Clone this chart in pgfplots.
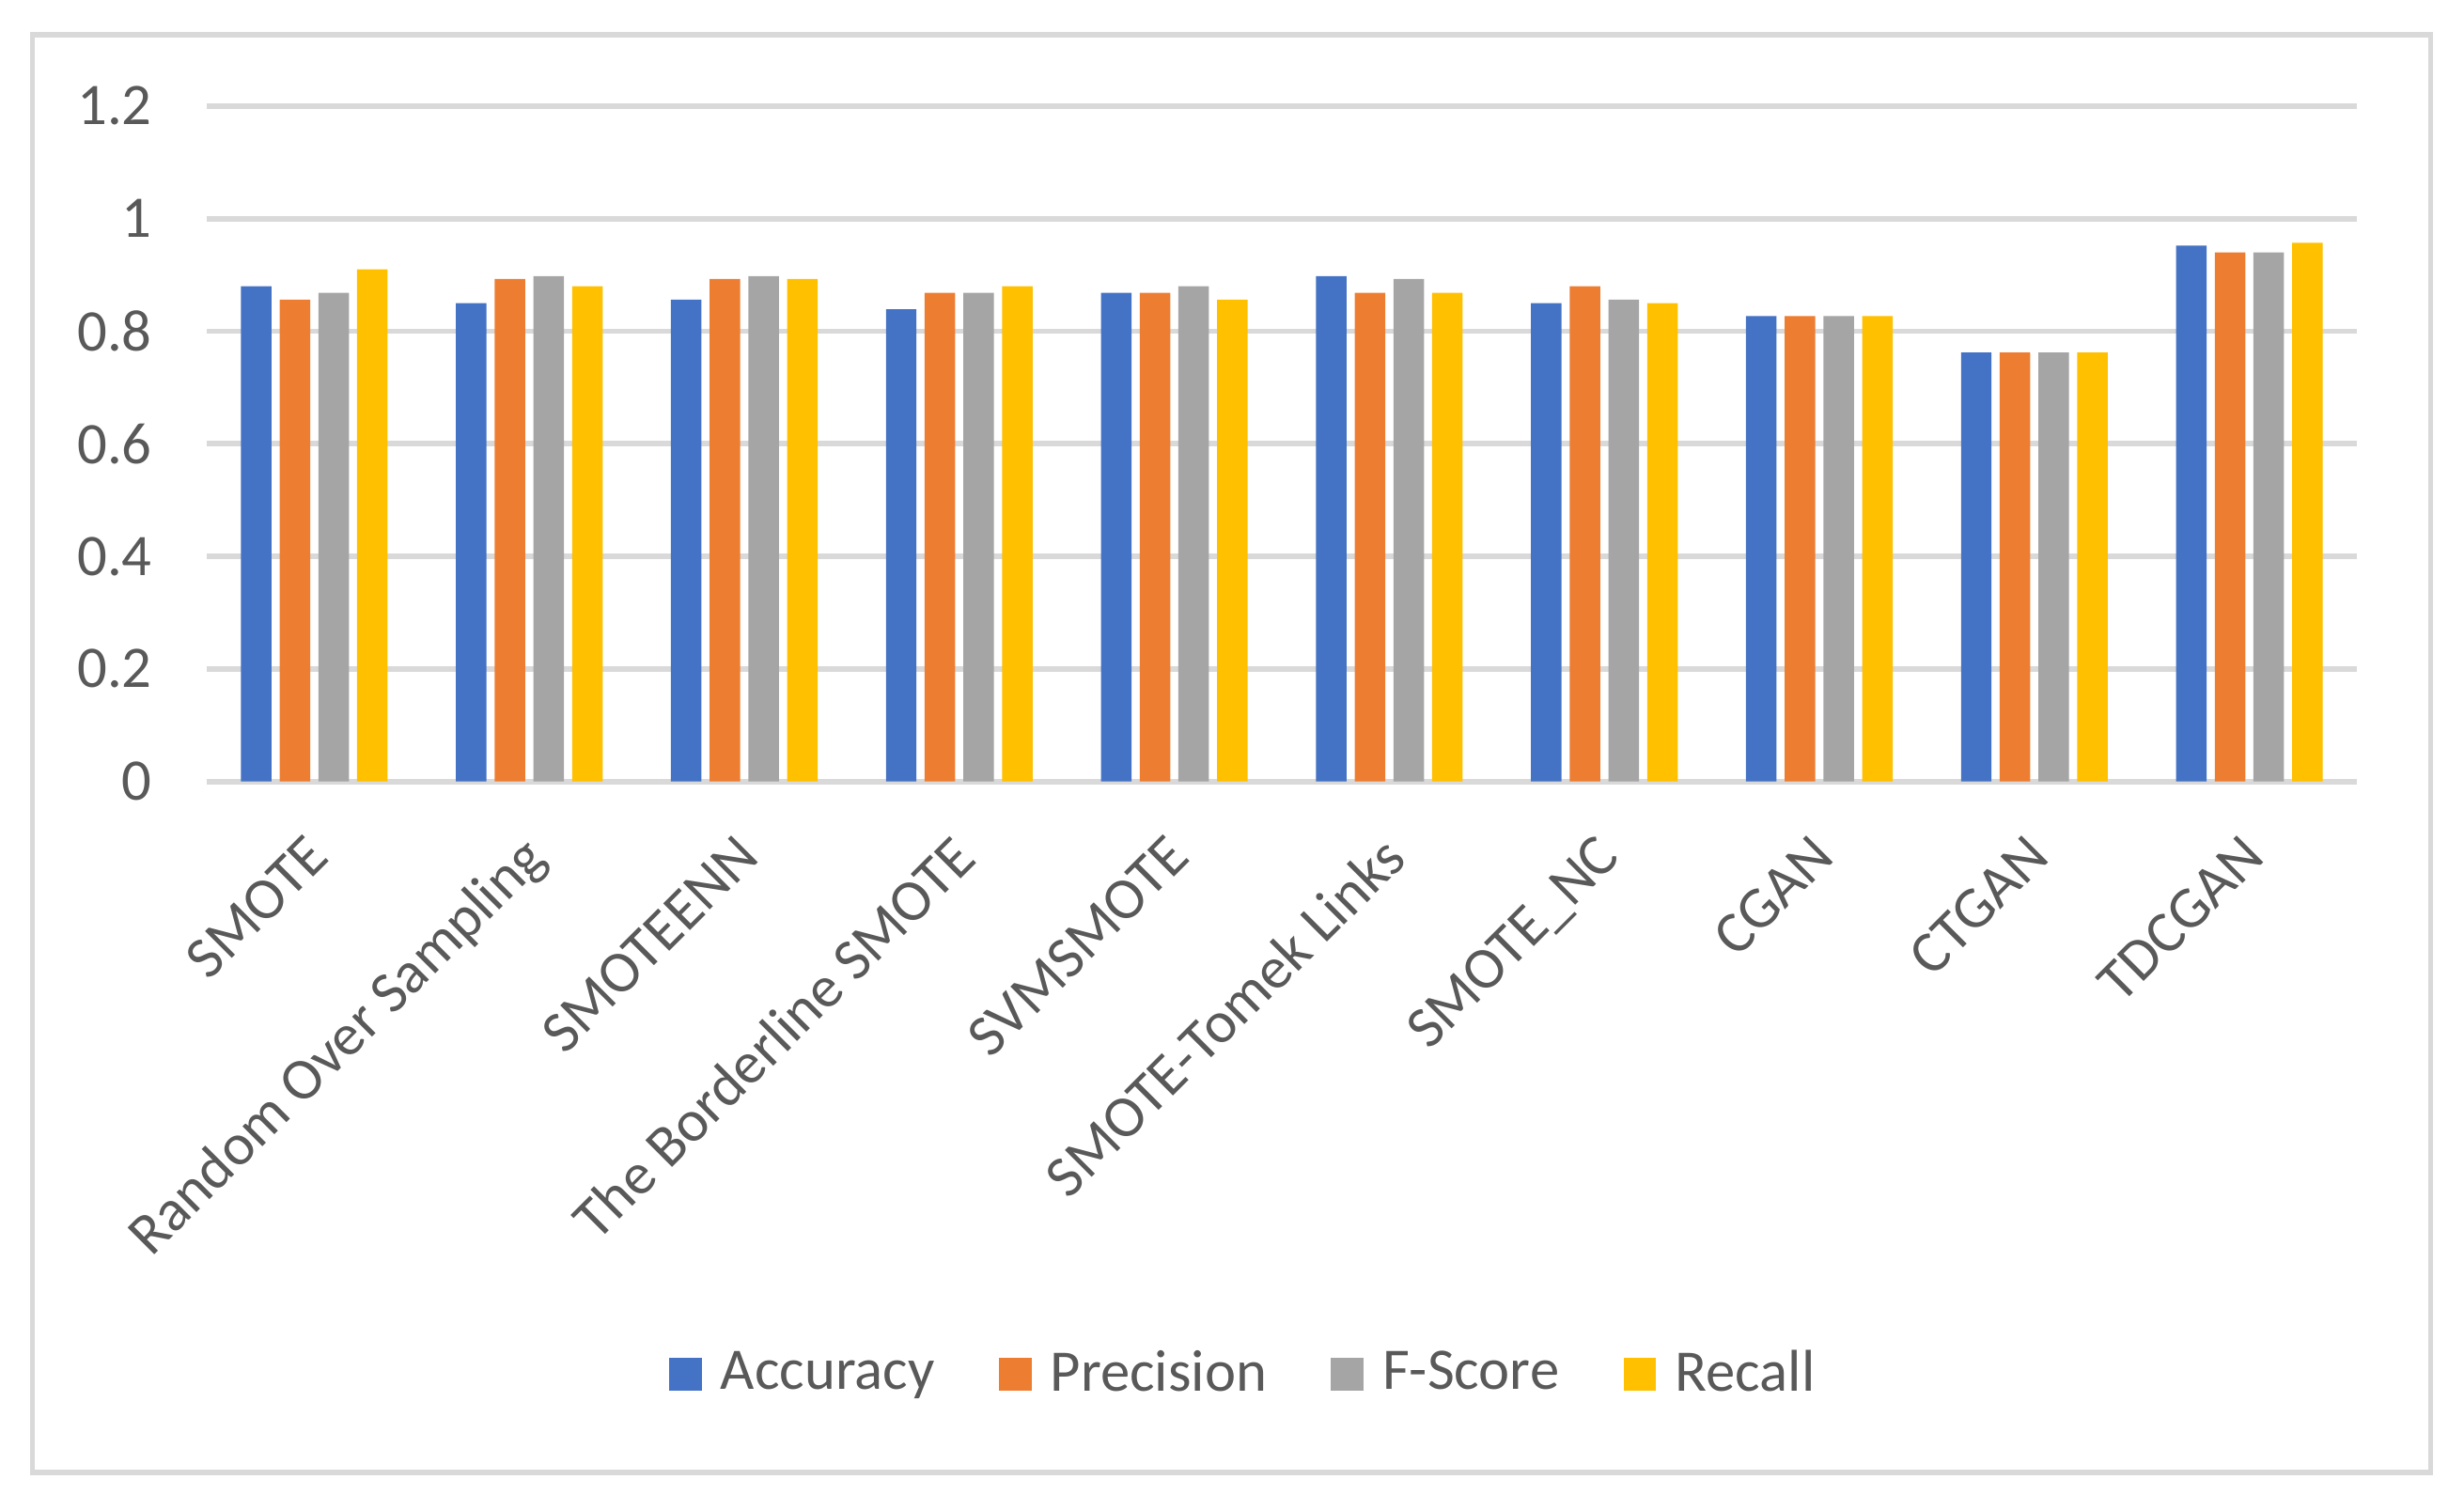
\documentclass[border=0pt]{standalone}
\usepackage{fontspec}
\setmainfont{Carlito}
\usepackage{pgfplots}
\pgfplotsset{compat=1.18}
\definecolor{cAcc}{HTML}{4472C4}
\definecolor{cPre}{HTML}{ED7D31}
\definecolor{cFsc}{HTML}{A5A5A5}
\definecolor{cRec}{HTML}{FFC000}
\definecolor{gridgray}{HTML}{D9D9D9}
\definecolor{labelgray}{HTML}{595959}
\pgfplotsset{sqlegend/.style={legend image code/.code={\fill[##1] (0pt,-3.05pt) rectangle (6.1pt,3.05pt);}}}
\begin{document}
\begin{tikzpicture}
\path[use as bounding box] (-38.6pt,-133.2pt) rectangle (421.4pt,145.9pt);
\draw[gridgray, line width=0.9pt] (-32.5pt,-129pt) rectangle (415.1pt,139.4pt);
\begin{axis}[
    scale only axis,
    width=401.4pt, height=126.1pt,
    xmin=-0.5, xmax=9.5, ymin=0, ymax=1.2,
    ybar=1.53pt, bar width=5.7pt,
    axis line style={draw=none},
    major tick length=0pt,
    ymajorgrids,
    grid style={line width=1pt, gridgray},
    xtick={0,...,9},
    xticklabels={SMOTE,Random Over Sampling,SMOTEENN,The Borderline SMOTE,SVMSMOTE,SMOTE-Tomek Links,SMOTE\_NC,CGAN,CTGAN,TDCGAN},
    ytick={0,0.2,0.4,0.6,0.8,1,1.2},
    /pgf/number format/assume math mode=true,
    tick label style={font=\fontsize{11}{13}\selectfont, text=labelgray},
    yticklabel style={xshift=-6.7pt},
    xticklabel style={rotate=45, anchor=north east, inner sep=0pt, xshift=-7.85pt, yshift=-5.2pt},
    legend columns=-1,
    legend style={draw=none, fill=none, at={(0.484,-0.878)}, anchor=center,
        font=\fontsize{11}{13}\selectfont, text=labelgray,
        /tikz/every odd column/.append style={column sep=1.5pt},
        /tikz/every even column/.append style={column sep=10pt}},
]
\addplot[fill=cAcc, draw=none, sqlegend] coordinates {(0,0.880) (1,0.850) (2,0.856) (3,0.839) (4,0.868) (5,0.898) (6,0.850) (7,0.827) (8,0.762) (9,0.952)};
\addplot[fill=cPre, draw=none, sqlegend] coordinates {(0,0.856) (1,0.893) (2,0.893) (3,0.868) (4,0.868) (5,0.868) (6,0.880) (7,0.827) (8,0.762) (9,0.940)};
\addplot[fill=cFsc, draw=none, sqlegend] coordinates {(0,0.868) (1,0.898) (2,0.898) (3,0.868) (4,0.880) (5,0.893) (6,0.856) (7,0.827) (8,0.762) (9,0.940)};
\addplot[fill=cRec, draw=none, sqlegend] coordinates {(0,0.910) (1,0.880) (2,0.893) (3,0.880) (4,0.856) (5,0.868) (6,0.850) (7,0.827) (8,0.762) (9,0.957)};
\legend{Accuracy,Precision,F-Score,Recall}
\end{axis}
\end{tikzpicture}
\end{document}
